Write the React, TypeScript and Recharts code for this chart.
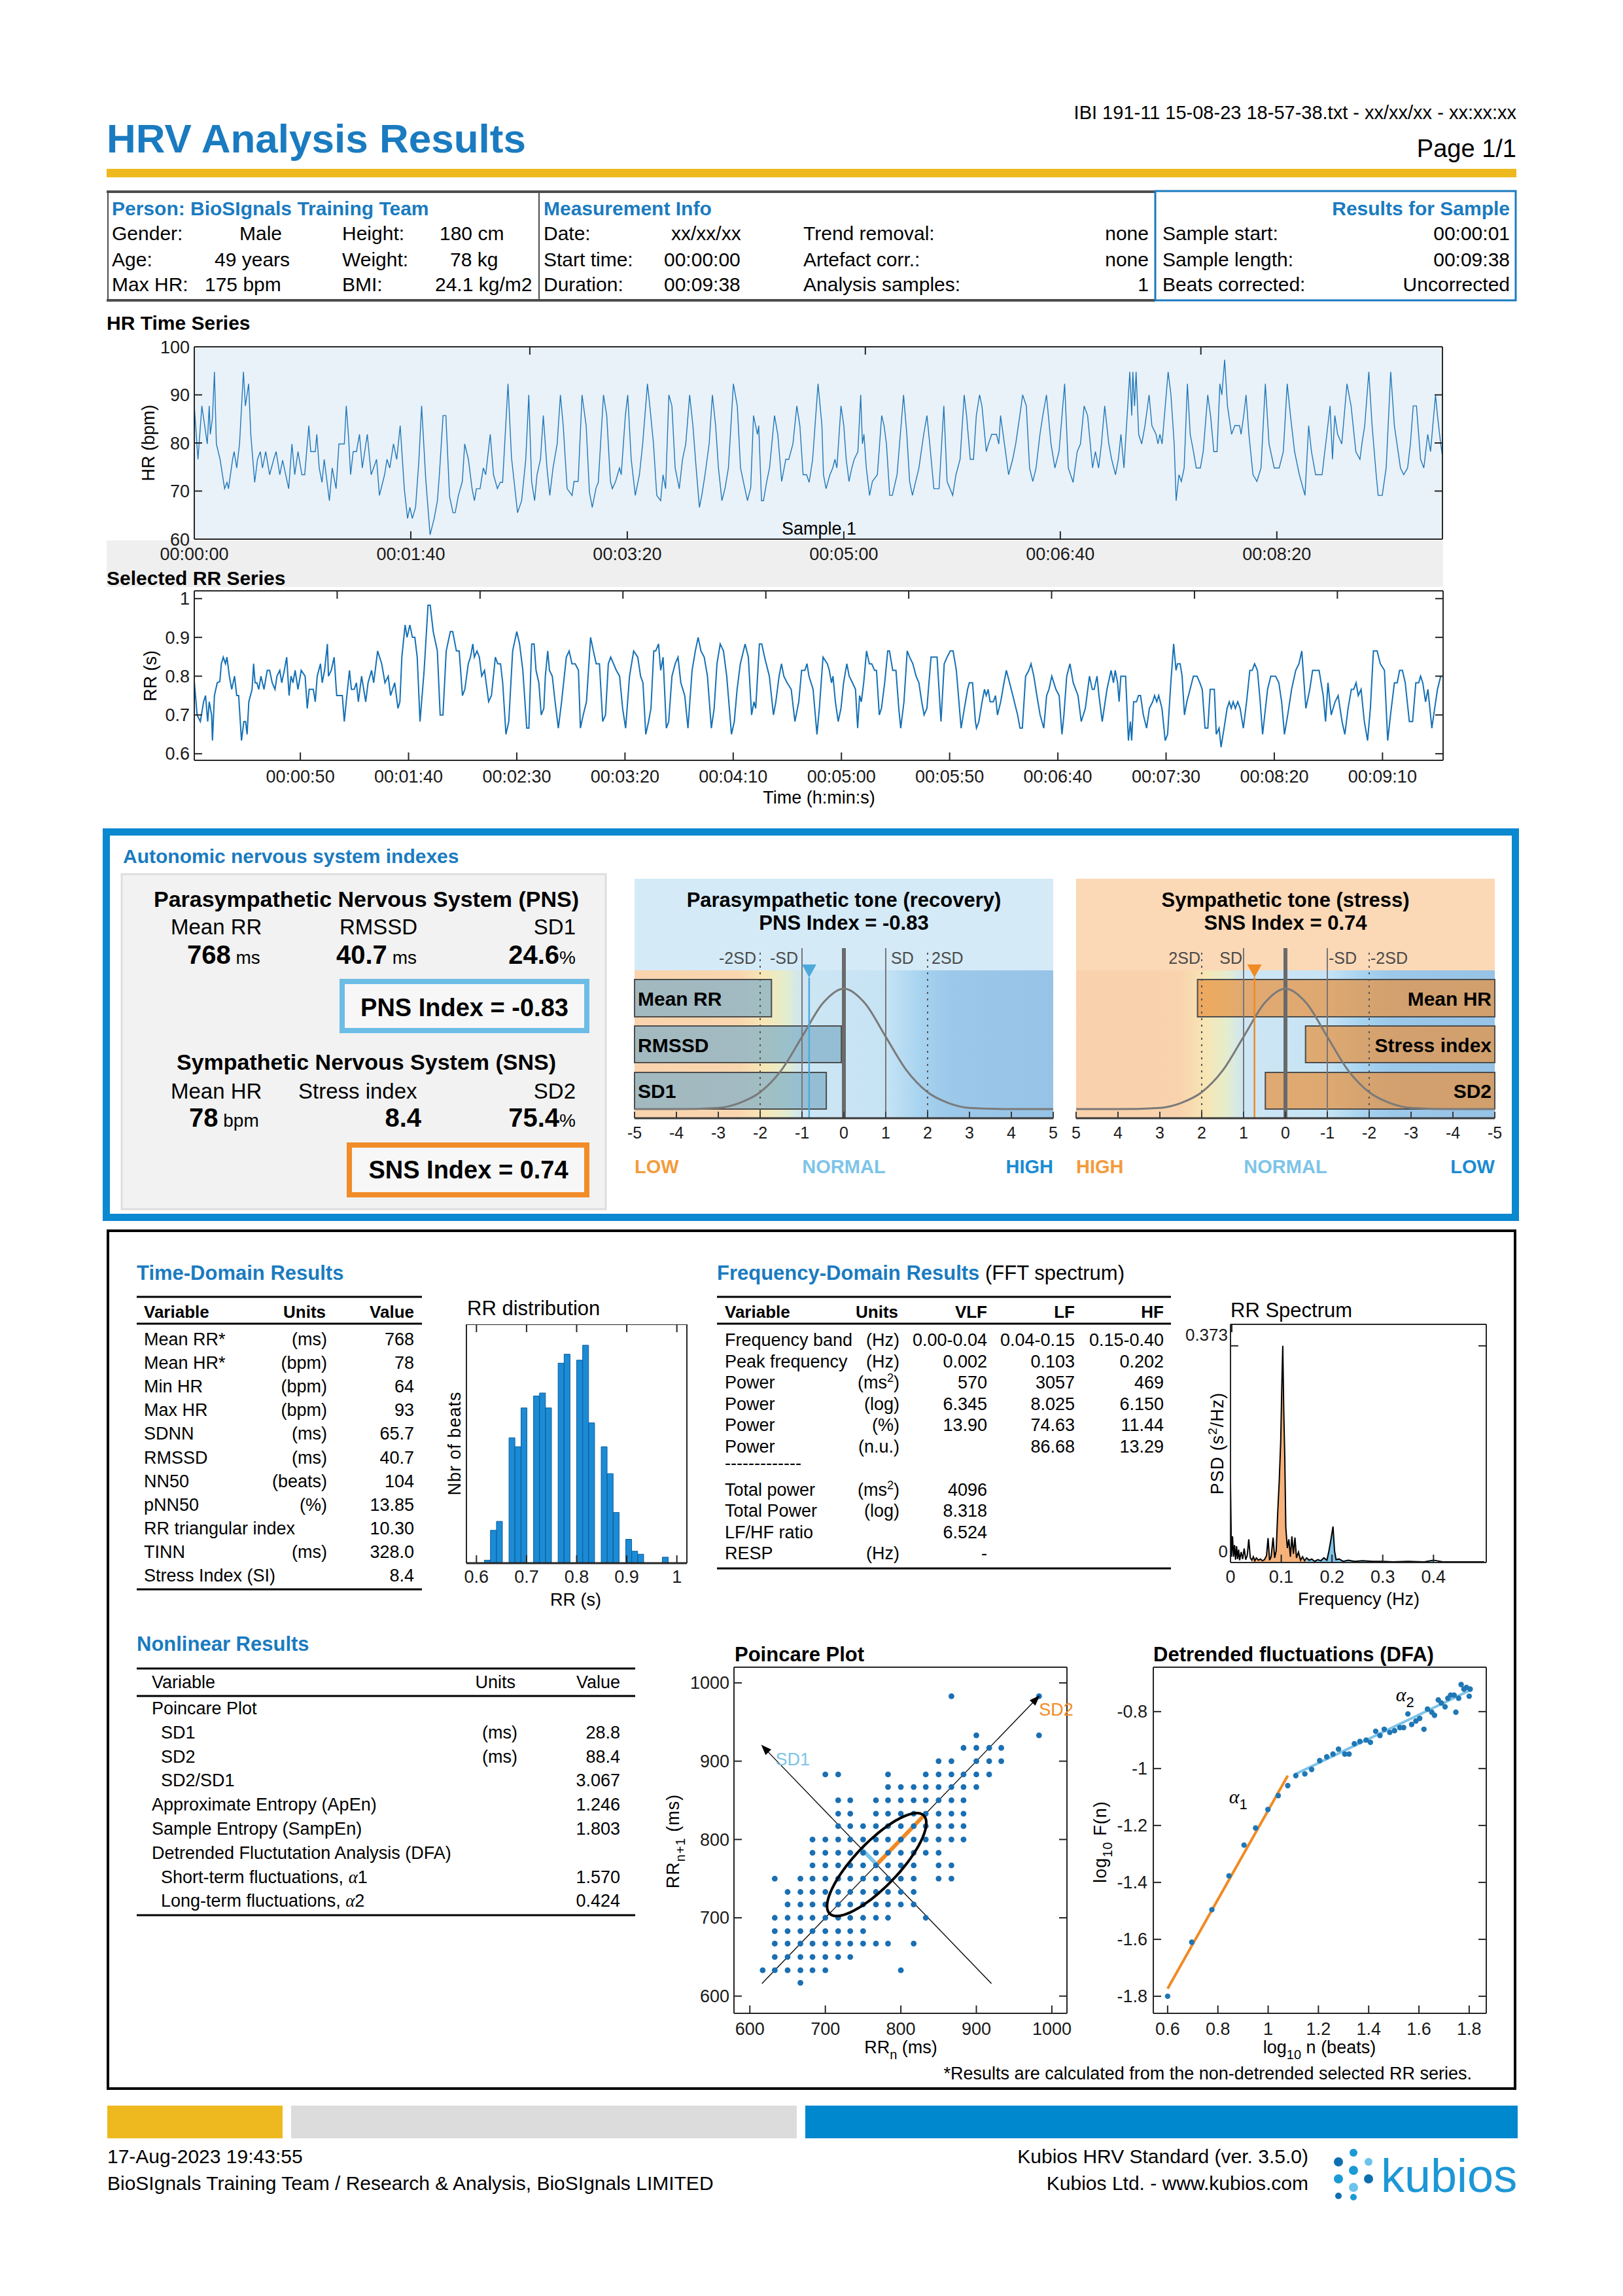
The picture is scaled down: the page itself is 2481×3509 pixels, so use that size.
import React from 'react';
import {
  ComposedChart, ScatterChart, Line, Area, Bar, Scatter,
  XAxis, YAxis, ReferenceLine, ReferenceArea, ReferenceDot,
} from 'recharts';

const FONT = 'Arial, "Liberation Sans", Helvetica, sans-serif';
const PAGE_W = 2481;
const PAGE_H = 3509;
const HEAD = '#1a7bc0';
const AXC = '#262626';

/* ============================ DATA ============================ */

const hrSeries: [number, number][] = [
  [0.0,87.7],[1.7,76.6],[3.5,87.7],[6.0,79.8],[6.9,87.7],[7.4,81.8],[8.4,85.2],[9.3,94.8],[10.2,79.8],[11.9,76.6],[14.0,70.5],[15.1,71.8],[15.8,70.5],[17.7,76.6],[18.4,78.2],[19.6,74.8],[20.9,79.8],[22.7,94.8],[23.6,87.7],[25.1,92.3],[26.1,81.8],[27.9,71.8],[29.2,76.6],[30.5,78.2],[31.5,74.8],[33.0,78.2],[34.8,73.4],[36.7,76.6],[37.8,78.2],[39.5,73.4],[40.8,76.4],[43.6,70.5],[45.1,79.8],[46.4,73.4],[47.9,78.2],[49.7,73.4],[51.0,73.4],[52.9,83.6],[53.8,78.2],[55.9,78.2],[56.6,81.8],[57.7,74.8],[59.0,71.8],[60.0,76.6],[62.4,68.0],[63.7,74.8],[65.5,70.5],[66.8,79.8],[69.3,79.8],[70.2,87.7],[71.3,80.9],[72.2,73.4],[73.4,78.2],[74.9,78.2],[76.3,81.8],[77.6,74.8],[79.9,81.8],[81.7,73.4],[84.2,76.6],[85.5,69.1],[87.9,73.4],[89.0,76.6],[90.3,74.8],[92.0,79.8],[93.5,76.6],[95.1,83.6],[97.0,70.5],[98.5,64.3],[99.6,66.6],[100.7,64.3],[102.2,66.6],[103.7,76.1],[105.0,87.7],[106.9,72.5],[108.9,60.9],[110.8,64.3],[112.3,68.0],[113.2,73.4],[114.9,85.7],[116.2,85.7],[117.9,68.9],[119.5,65.5],[120.5,65.5],[122.0,69.1],[123.8,72.0],[124.9,79.8],[126.6,76.6],[128.3,70.5],[129.4,68.0],[130.3,70.5],[132.0,70.5],[133.5,74.8],[134.6,73.4],[136.7,81.8],[138.2,73.4],[140.0,70.5],[141.3,71.8],[142.4,71.8],[144.9,92.3],[146.5,77.0],[149.3,65.5],[151.2,68.0],[153.1,76.6],[154.5,90.0],[155.8,72.0],[157.2,68.0],[158.3,73.4],[159.9,76.6],[161.2,85.7],[162.9,74.8],[164.2,69.1],[165.7,74.8],[167.6,79.8],[169.1,90.0],[170.4,83.6],[172.2,70.5],[174.5,69.1],[175.4,72.0],[177.3,72.0],[179.1,90.0],[181.0,83.6],[182.5,69.8],[183.8,66.6],[185.6,70.7],[186.6,71.8],[189.0,90.0],[190.5,85.7],[192.2,72.0],[193.1,70.5],[194.6,72.0],[196.4,74.8],[197.2,73.4],[199.1,85.7],[200.2,90.0],[201.8,76.6],[203.7,69.1],[205.6,73.4],[207.1,79.8],[209.3,92.3],[210.4,87.7],[212.1,79.8],[213.6,69.1],[215.4,68.0],[216.5,73.4],[217.7,70.5],[219.2,90.0],[220.6,87.7],[222.1,74.8],[224.0,70.5],[225.5,76.6],[227.0,79.8],[228.8,90.0],[230.3,83.6],[231.8,74.8],[233.3,66.6],[234.4,69.1],[235.9,73.4],[237.8,79.8],[239.3,90.0],[240.8,83.6],[242.1,74.8],[243.7,68.0],[245.2,70.7],[246.7,74.8],[249.0,92.3],[250.8,87.7],[252.3,74.8],[253.6,72.0],[255.5,68.0],[257.0,70.7],[258.3,85.7],[260.1,81.8],[260.7,83.6],[262.0,68.0],[262.9,68.0],[264.4,72.0],[265.7,74.8],[268.0,85.7],[269.5,81.8],[271.3,72.0],[273.2,76.6],[274.6,76.6],[276.5,79.8],[278.3,87.7],[279.7,83.6],[281.2,73.4],[282.8,73.4],[284.0,71.8],[285.6,76.6],[288.1,92.3],[289.9,83.6],[290.6,73.4],[291.8,70.5],[293.6,73.4],[294.9,74.8],[295.9,76.6],[296.8,74.8],[298.7,87.7],[300.0,83.6],[301.1,76.6],[302.4,72.0],[303.7,74.8],[304.8,76.6],[306.5,78.2],[307.8,90.0],[308.6,79.8],[309.3,81.8],[310.4,74.8],[311.9,69.1],[313.2,72.0],[315.5,73.4],[317.5,85.7],[318.6,83.6],[319.7,79.8],[321.2,69.1],[322.4,69.1],[324.6,73.4],[327.6,90.0],[329.1,81.8],[330.4,72.0],[331.7,69.1],[333.2,72.0],[334.7,74.8],[336.9,81.8],[338.4,85.7],[339.7,79.8],[341.6,70.5],[344.0,70.5],[346.2,87.7],[347.7,72.0],[350.3,69.1],[351.8,73.4],[353.7,76.6],[355.6,90.0],[356.7,85.7],[358.4,76.6],[359.9,76.6],[361.2,85.7],[362.7,90.0],[363.8,87.7],[365.8,78.2],[366.8,79.8],[368.3,81.8],[370.5,81.8],[371.6,79.8],[372.4,85.7],[374.2,79.8],[376.1,73.4],[378.0,76.6],[379.4,79.8],[381.3,85.7],[382.6,90.0],[384.3,87.7],[385.8,74.8],[387.3,72.0],[388.8,74.8],[390.6,81.8],[391.9,85.7],[393.6,90.0],[395.7,79.8],[397.5,74.8],[399.4,78.2],[402.0,92.3],[403.7,74.8],[405.9,71.8],[407.8,78.2],[409.3,79.8],[411.0,87.7],[412.6,85.7],[414.9,74.8],[416.2,78.2],[417.7,74.8],[419.0,79.8],[420.5,87.7],[422.4,79.8],[423.7,76.6],[425.5,73.4],[426.8,76.6],[428.0,81.8],[429.4,74.8],[432.1,94.8],[433.0,85.7],[433.5,94.8],[434.3,87.7],[435.0,94.8],[436.2,81.8],[437.6,79.8],[439.1,83.6],[441.0,90.0],[442.3,83.6],[444.2,81.8],[445.1,79.8],[446.0,81.8],[447.0,79.8],[449.8,94.8],[451.1,90.0],[452.6,79.8],[453.5,68.0],[454.8,73.4],[455.9,72.0],[457.2,74.8],[458.7,92.3],[460.0,81.8],[461.5,78.2],[462.8,74.8],[464.7,74.8],[466.0,78.2],[468.1,90.0],[469.4,85.7],[470.9,78.2],[472.4,78.2],[473.7,92.3],[474.6,90.0],[475.9,97.3],[477.2,87.7],[479.1,81.8],[480.6,83.6],[482.8,83.6],[483.5,81.8],[484.7,85.7],[485.8,90.0],[487.1,81.8],[489.0,73.4],[490.8,72.0],[492.7,74.8],[494.7,92.3],[496.4,79.8],[498.8,74.8],[501.1,74.8],[503.0,78.2],[504.8,92.3],[506.3,85.7],[508.2,78.2],[510.4,73.4],[513.0,69.1],[514.7,83.6],[516.0,78.2],[517.9,73.4],[520.9,73.4],[523.1,81.8],[524.6,87.7],[525.7,76.6],[526.8,85.7],[528.1,81.8],[530.0,79.8],[532.4,92.3],[534.3,87.7],[536.5,78.2],[538.4,76.6],[539.3,79.8],[540.6,83.6],[542.5,94.8],[544.0,83.6],[545.9,73.4],[546.8,69.1],[548.7,69.1],[550.5,74.8],[552.6,94.8],[554.3,83.6],[557.1,74.8],[558.6,73.4],[560.4,74.8],[561.7,79.8],[563.0,87.7],[564.5,87.7],[566.4,76.6],[567.9,74.8],[569.7,81.8],[571.0,78.2],[573.3,90.0],[574.2,85.7],[575.7,79.8],[577.2,74.8],
];

const rrSeries: [number, number][] = [
  [1.0,0.786],[2.3,0.700],[3.8,0.683],[5.3,0.734],[6.2,0.750],[7.2,0.683],[7.9,0.734],[9.0,0.700],[9.4,0.634],[10.3,0.750],[11.6,0.783],[12.8,0.786],[13.5,0.832],[14.4,0.849],[15.4,0.832],[16.1,0.849],[17.2,0.800],[18.3,0.766],[19.6,0.800],[20.6,0.750],[21.5,0.750],[22.8,0.634],[23.9,0.683],[24.7,0.683],[25.4,0.650],[26.2,0.734],[27.7,0.766],[28.4,0.832],[29.1,0.783],[29.9,0.783],[30.8,0.766],[31.8,0.800],[33.2,0.766],[34.7,0.815],[35.8,0.815],[37.0,0.783],[38.3,0.766],[39.2,0.800],[40.5,0.815],[41.4,0.783],[42.6,0.815],[43.7,0.849],[44.8,0.750],[45.7,0.800],[46.6,0.783],[47.6,0.815],[48.9,0.766],[50.4,0.815],[52.2,0.800],[53.2,0.717],[54.1,0.766],[56.0,0.766],[56.9,0.734],[57.8,0.800],[59.3,0.832],[60.1,0.783],[61.2,0.815],[62.5,0.883],[63.0,0.800],[64.3,0.815],[65.6,0.849],[66.8,0.750],[69.4,0.750],[70.3,0.683],[71.2,0.734],[72.7,0.815],[73.6,0.766],[74.9,0.766],[75.9,0.783],[76.8,0.734],[78.3,0.800],[80.2,0.734],[81.3,0.783],[82.9,0.815],[83.9,0.783],[85.7,0.865],[87.6,0.832],[89.1,0.783],[90.6,0.800],[91.7,0.750],[93.6,0.783],[95.1,0.717],[96.0,0.734],[96.9,0.849],[98.4,0.932],[99.3,0.900],[100.6,0.932],[101.8,0.900],[102.9,0.900],[104.0,0.849],[105.3,0.683],[107.2,0.815],[109.0,0.983],[110.0,0.983],[111.4,0.915],[113.3,0.865],[114.6,0.700],[115.9,0.700],[117.4,0.865],[119.3,0.915],[120.4,0.915],[122.1,0.865],[123.4,0.865],[124.9,0.750],[126.0,0.766],[127.6,0.832],[128.6,0.849],[129.7,0.883],[130.4,0.849],[131.6,0.865],[132.7,0.849],[133.8,0.800],[135.1,0.815],[137.0,0.734],[138.3,0.750],[140.1,0.849],[141.2,0.832],[142.5,0.832],[143.5,0.783],[145.0,0.650],[146.3,0.683],[148.1,0.865],[150.0,0.915],[151.3,0.883],[152.8,0.815],[154.6,0.666],[155.6,0.666],[156.9,0.883],[158.0,0.883],[158.9,0.815],[160.2,0.783],[161.3,0.700],[162.5,0.717],[163.2,0.800],[164.3,0.865],[165.1,0.815],[166.4,0.800],[167.7,0.734],[169.2,0.666],[170.7,0.734],[172.9,0.849],[174.2,0.865],[175.5,0.832],[177.0,0.832],[178.5,0.815],[179.4,0.666],[180.7,0.700],[182.2,0.734],[184.1,0.900],[185.4,0.865],[186.7,0.832],[188.2,0.832],[189.7,0.683],[191.0,0.700],[192.3,0.832],[193.4,0.849],[194.7,0.832],[196.0,0.815],[197.5,0.800],[198.9,0.717],[200.3,0.666],[202.1,0.800],[204.0,0.865],[205.9,0.849],[207.2,0.800],[208.3,0.783],[209.6,0.650],[210.9,0.683],[212.0,0.717],[213.3,0.865],[214.2,0.865],[215.5,0.883],[216.5,0.815],[217.6,0.849],[219.1,0.666],[220.2,0.683],[221.7,0.800],[223.2,0.832],[224.5,0.849],[225.8,0.783],[227.6,0.750],[229.1,0.666],[231.0,0.815],[232.5,0.865],[233.8,0.900],[235.1,0.865],[236.6,0.849],[238.1,0.800],[239.9,0.666],[241.2,0.717],[242.5,0.832],[244.0,0.883],[245.5,0.865],[247.0,0.800],[249.2,0.650],[250.5,0.683],[251.8,0.766],[253.3,0.832],[255.5,0.883],[257.0,0.849],[258.5,0.700],[259.6,0.734],[260.4,0.717],[262.1,0.883],[263.2,0.883],[264.5,0.849],[266.7,0.800],[268.6,0.700],[269.7,0.734],[271.2,0.800],[272.3,0.832],[273.4,0.800],[274.9,0.783],[276.8,0.766],[278.5,0.683],[280.3,0.734],[281.6,0.815],[283.1,0.815],[284.1,0.832],[285.0,0.800],[286.9,0.766],[288.7,0.650],[289.8,0.717],[291.5,0.849],[293.5,0.832],[294.4,0.815],[295.4,0.783],[296.1,0.800],[297.2,0.734],[298.5,0.683],[299.8,0.717],[301.0,0.783],[302.5,0.832],[303.6,0.800],[305.1,0.783],[306.5,0.766],[307.5,0.666],[308.4,0.750],[309.2,0.734],[310.3,0.783],[311.6,0.865],[312.9,0.832],[314.0,0.832],[315.3,0.815],[316.2,0.815],[317.5,0.700],[318.5,0.717],[320.0,0.783],[321.4,0.865],[322.2,0.865],[323.7,0.815],[325.2,0.815],[326.5,0.717],[327.4,0.666],[328.9,0.734],[330.4,0.865],[331.5,0.849],[333.0,0.832],[334.5,0.800],[335.8,0.783],[337.1,0.734],[338.2,0.700],[339.5,0.717],[341.4,0.849],[344.2,0.849],[346.0,0.683],[347.5,0.832],[348.8,0.849],[350.3,0.865],[351.6,0.865],[353.1,0.815],[355.3,0.666],[356.8,0.717],[358.3,0.766],[359.1,0.783],[360.6,0.783],[361.9,0.683],[362.4,0.666],[363.5,0.683],[365.0,0.734],[366.1,0.766],[366.9,0.750],[367.8,0.766],[368.7,0.734],[370.2,0.734],[371.2,0.750],[372.1,0.700],[373.6,0.734],[375.1,0.783],[376.2,0.815],[377.7,0.783],[379.2,0.750],[381.4,0.700],[382.5,0.666],[383.6,0.666],[385.1,0.800],[386.6,0.815],[387.6,0.832],[388.9,0.800],[390.3,0.750],[391.8,0.700],[393.5,0.666],[394.8,0.750],[395.9,0.766],[397.2,0.800],[399.1,0.766],[400.6,0.750],[401.9,0.650],[402.8,0.700],[404.1,0.800],[405.6,0.832],[407.1,0.783],[409.3,0.750],[410.8,0.683],[412.7,0.717],[414.6,0.800],[415.9,0.766],[416.8,0.766],[418.1,0.800],[419.0,0.750],[420.5,0.683],[422.7,0.766],[424.6,0.815],[425.7,0.783],[426.5,0.815],[427.6,0.783],[428.3,0.734],[429.1,0.800],[431.3,0.800],[432.1,0.700],[432.6,0.634],[433.5,0.683],[434.1,0.634],[435.0,0.734],[436.3,0.734],[437.3,0.750],[438.2,0.750],[439.5,0.700],[441.0,0.666],[442.3,0.717],[443.8,0.734],[444.7,0.750],[445.7,0.734],[446.6,0.750],[448.1,0.717],[449.6,0.634],[450.7,0.650],[452.2,0.783],[453.5,0.883],[454.6,0.815],[455.3,0.832],[456.5,0.832],[457.4,0.800],[458.5,0.700],[459.6,0.734],[461.1,0.766],[462.6,0.800],[464.3,0.800],[465.6,0.783],[466.7,0.766],[468.0,0.666],[469.3,0.666],[470.4,0.766],[472.3,0.766],[473.2,0.650],[474.5,0.666],[475.4,0.617],[476.8,0.666],[478.2,0.717],[479.2,0.734],[480.1,0.717],[481.0,0.734],[482.0,0.717],[483.1,0.734],[484.2,0.717],[485.7,0.666],[487.2,0.734],[488.7,0.815],[489.8,0.815],[490.9,0.832],[492.2,0.815],[493.5,0.734],[494.6,0.650],[496.9,0.766],[498.4,0.800],[500.6,0.800],[502.1,0.783],[503.4,0.734],[504.7,0.650],[506.2,0.700],[508.0,0.766],[509.9,0.815],[511.4,0.832],[512.7,0.865],[514.6,0.717],[516.4,0.766],[517.7,0.815],[520.7,0.815],[522.6,0.750],[523.7,0.683],[524.8,0.783],[526.3,0.700],[528.1,0.734],[529.5,0.750],[531.3,0.683],[532.6,0.650],[534.1,0.717],[535.6,0.766],[536.7,0.766],[537.8,0.783],[538.8,0.750],[540.1,0.766],[541.6,0.683],[543.1,0.634],[544.4,0.717],[545.8,0.865],[547.5,0.865],[549.0,0.832],[550.9,0.815],[552.4,0.634],[553.7,0.700],[555.5,0.783],[556.8,0.783],[557.9,0.815],[559.2,0.815],[560.5,0.783],[562.4,0.683],[563.9,0.683],[565.4,0.783],[566.7,0.783],[567.6,0.800],[568.6,0.783],[569.9,0.734],[571.0,0.766],[572.8,0.666],[574.1,0.717],[575.4,0.766],[576.9,0.800],
];

const hrTicks = [0, 100, 200, 300, 400, 500];
const rrTicks = [50, 100, 150, 200, 250, 300, 350, 400, 450, 500, 550];

// RR distribution histogram: bin centre (s) and number of beats
const histCenters = [0.622, 0.634, 0.646, 0.671, 0.683, 0.695, 0.720, 0.732, 0.744, 0.769, 0.781, 0.806, 0.818, 0.830, 0.855, 0.867, 0.879, 0.904, 0.916, 0.928, 0.977];
const histCounts = [1, 11, 14, 42, 39, 52, 56, 57, 52, 67, 70, 68, 73, 47, 39, 30, 17, 8, 4, 3, 2];
const histTicks = [0.6, 0.7, 0.8, 0.9, 1];

// FFT spectrum (Hz, s^2/Hz)
const spectrum: [number, number][] = [
  [0.000,0.139],[0.002,0.010],[0.004,0.045],[0.006,0.010],[0.008,0.030],[0.010,0.005],[0.012,0.028],[0.014,0.006],[0.016,0.022],[0.018,0.004],[0.021,0.018],[0.024,0.006],[0.027,0.024],[0.030,0.005],[0.033,0.012],[0.036,0.040],[0.039,0.008],[0.042,0.004],[0.045,0.010],[0.048,0.003],[0.051,0.008],[0.055,0.004],[0.059,0.006],[0.063,0.003],[0.067,0.005],[0.071,0.012],[0.074,0.042],[0.077,0.004],[0.080,0.010],[0.084,0.043],[0.087,0.008],[0.090,0.020],[0.093,0.085],[0.096,0.140],[0.099,0.210],[0.101,0.300],[0.103,0.373],[0.105,0.260],[0.107,0.180],[0.109,0.060],[0.112,0.025],[0.115,0.040],[0.118,0.010],[0.121,0.045],[0.124,0.015],[0.127,0.043],[0.130,0.008],[0.134,0.018],[0.138,0.004],[0.142,0.010],[0.146,0.003],[0.150,0.008],[0.155,0.004],[0.160,0.006],[0.166,0.002],[0.172,0.005],[0.178,0.003],[0.184,0.008],[0.190,0.004],[0.194,0.020],[0.198,0.040],[0.202,0.062],[0.205,0.020],[0.208,0.005],[0.214,0.006],[0.222,0.002],[0.232,0.004],[0.245,0.002],[0.260,0.003],[0.280,0.002],[0.300,0.002],[0.320,0.001],[0.350,0.002],[0.380,0.001],[0.400,0.004],[0.420,0.001],[0.450,0.001],[0.480,0.001],[0.500,0.001],
];
const LF_BAND = [0.04, 0.15];
const HF_BAND = [0.15, 0.40];

// Poincare: RR(n+1) rows and the RR(n) values that appear on each row (ms)
const poincareRows: [number, number[]][] = [
  [983, [867, 983]],
  [933, [900, 983]],
  [917, [883, 900, 917, 933]],
  [900, [850, 867, 900, 917, 933]],
  [883, [700, 717, 783, 833, 850, 867, 883, 900, 917]],
  [867, [783, 800, 817, 833, 850, 867, 883, 900]],
  [850, [717, 733, 767, 783, 800, 817, 833, 850, 867, 883]],
  [833, [717, 733, 767, 783, 800, 817, 833, 850, 867, 883]],
  [817, [717, 733, 750, 767, 783, 800, 817, 833, 850, 867, 883]],
  [800, [683, 700, 717, 733, 750, 767, 783, 800, 817, 833, 850, 867, 883]],
  [783, [683, 700, 717, 733, 750, 767, 783, 800, 817, 833, 850]],
  [767, [683, 700, 717, 733, 750, 767, 783, 800, 817, 850, 867]],
  [750, [633, 667, 683, 700, 717, 733, 750, 767, 783, 800, 817, 850, 867]],
  [733, [650, 667, 683, 700, 717, 733, 750, 767, 783, 800, 817]],
  [717, [650, 667, 683, 700, 717, 733, 750, 767, 783, 800, 817]],
  [700, [633, 650, 667, 683, 700, 717, 733, 750, 767, 783, 833]],
  [683, [633, 650, 667, 683, 700, 717, 733, 750]],
  [667, [633, 650, 667, 683, 700, 717, 733, 750, 767, 783, 817]],
  [650, [633, 650, 667, 683, 700, 717, 733]],
  [633, [617, 633, 650, 667, 683, 700, 800]],
  [617, [667]],
];
const MEAN_RR = 768;
const SD1 = 28.8;
const SD2 = 88.4;

// DFA points (log10 n, log10 F(n)) and fitted lines
const dfaPoints: [number, number][] = [
  [0.600,-1.800],[0.696,-1.610],[0.776,-1.496],[0.844,-1.377],[0.904,-1.269],[0.950,-1.209],[0.999,-1.144],[1.040,-1.095],[1.078,-1.060],[1.110,-1.025],[1.146,-1.019],[1.173,-1.003],[1.205,-0.972],[1.233,-0.959],[1.258,-0.949],[1.280,-0.932],[1.305,-0.949],[1.322,-0.949],[1.343,-0.913],[1.365,-0.905],[1.390,-0.900],[1.407,-0.908],[1.428,-0.869],[1.445,-0.884],[1.462,-0.862],[1.484,-0.873],[1.503,-0.867],[1.524,-0.856],[1.539,-0.856],[1.556,-0.808],[1.571,-0.845],[1.588,-0.833],[1.603,-0.824],[1.620,-0.862],[1.634,-0.791],[1.651,-0.802],[1.662,-0.813],[1.677,-0.759],[1.689,-0.770],[1.704,-0.783],[1.715,-0.753],[1.726,-0.742],[1.740,-0.742],[1.747,-0.802],[1.758,-0.753],[1.768,-0.705],[1.779,-0.721],[1.789,-0.715],[1.800,-0.746],[1.804,-0.721],
];
const alpha1Line: [number, number][] = [[0.6, -1.773], [1.078, -1.025]];
const alpha2Line: [number, number][] = [[1.110, -1.019], [1.806, -0.724]];

// ANS gauges
const gaussX = [-5, -4, -3, -2.5, -2, -1.5, -1, -0.5, 0, 0.5, 1, 1.5, 2, 2.5, 3, 4, 5];
const gaussY = [0, 0, 0.01, 0.05, 0.14, 0.32, 0.6, 0.88, 1, 0.88, 0.6, 0.32, 0.14, 0.05, 0.01, 0, 0];
const gaugeTicks = [-5, -4, -3, -2, -1, 0, 1, 2, 3, 4, 5];
const pnsBars = [{ label: 'Mean RR', value: -1.73 }, { label: 'RMSSD', value: -0.06 }, { label: 'SD1', value: -0.42 }];
const snsBars = [{ label: 'Mean HR', value: 2.1 }, { label: 'Stress index', value: -0.48 }, { label: 'SD2', value: 0.48 }];
const PNS_INDEX = -0.83;
const SNS_INDEX = 0.74;

// Tables
const personRows = [
  ['Gender:', 'Male', 'Height:', '180 cm'],
  ['Age:', '49 years', 'Weight:', '78 kg'],
  ['Max HR:', '175 bpm', 'BMI:', '24.1 kg/m2'],
];
const measRows = [
  ['Date:', 'xx/xx/xx', 'Trend removal:', 'none'],
  ['Start time:', '00:00:00', 'Artefact corr.:', 'none'],
  ['Duration:', '00:09:38', 'Analysis samples:', '1'],
];
const sampleRows = [
  ['Sample start:', '00:00:01'],
  ['Sample length:', '00:09:38'],
  ['Beats corrected:', 'Uncorrected'],
];
const timeDomainRows = [
  ['Mean RR*', '(ms)', '768'],
  ['Mean HR*', '(bpm)', '78'],
  ['Min HR', '(bpm)', '64'],
  ['Max HR', '(bpm)', '93'],
  ['SDNN', '(ms)', '65.7'],
  ['RMSSD', '(ms)', '40.7'],
  ['NN50', '(beats)', '104'],
  ['pNN50', '(%)', '13.85'],
  ['RR triangular index', '', '10.30'],
  ['TINN', '(ms)', '328.0'],
  ['Stress Index (SI)', '', '8.4'],
];
const freqRows = [
  ['Frequency band', '(Hz)', '0.00-0.04', '0.04-0.15', '0.15-0.40'],
  ['Peak frequency', '(Hz)', '0.002', '0.103', '0.202'],
  ['Power', '(ms2)', '570', '3057', '469'],
  ['Power', '(log)', '6.345', '8.025', '6.150'],
  ['Power', '(%)', '13.90', '74.63', '11.44'],
  ['Power', '(n.u.)', '', '86.68', '13.29'],
];
const freqTotals = [
  ['Total power', '(ms2)', '4096'],
  ['Total Power', '(log)', '8.318'],
  ['LF/HF ratio', '', '6.524'],
  ['RESP', '(Hz)', '-'],
];
const nonlinRows: [string, number, string, string][] = [
  ['Poincare Plot', 0, '', ''],
  ['SD1', 1, '(ms)', '28.8'],
  ['SD2', 1, '(ms)', '88.4'],
  ['SD2/SD1', 1, '', '3.067'],
  ['Approximate Entropy (ApEn)', 0, '', '1.246'],
  ['Sample Entropy (SampEn)', 0, '', '1.803'],
  ['Detrended Fluctutation Analysis (DFA)', 0, '', ''],
  ['Short-term fluctuations, α1', 1, '', '1.570'],
  ['Long-term fluctuations, α2', 1, '', '0.424'],
];

/* ============================ HELPERS ============================ */

const pad2 = (n: number) => String(n).padStart(2, '0');
const fmtTime = (s: number) => {
  const m = Math.floor(s / 60);
  return `00:${pad2(m)}:${pad2(Math.round(s - m * 60))}`;
};

const AXL = { stroke: AXC, strokeWidth: 2 };
const TKL = { stroke: AXC, strokeWidth: 2 };
const noTick = () => <g />;
const mkTick = (anchor: string, dx: number, dy: number, fmt: (v: number) => string = (v) => String(v), fs = 27) =>
  (p: any) => (
    <text x={p.x + dx} y={p.y + dy} textAnchor={anchor} fontSize={fs} fill="#1a1a1a" fontFamily={FONT}>
      {fmt(p.payload.value)}
    </text>
  );

function boxAxes(o: any) {
  const ts = 12;
  return [
    <XAxis key="xb" xAxisId={0} dataKey="x" type="number" domain={o.xd} allowDataOverflow ticks={o.xt} interval={0}
      height={o.b} tickSize={-ts} tickMargin={ts} axisLine={AXL} tickLine={TKL} tick={o.xTick || noTick} />,
    <YAxis key="yl" yAxisId={0} dataKey={o.yKey} type="number" domain={o.yd} allowDataOverflow ticks={o.yt} interval={0}
      width={o.l} tickSize={-ts} tickMargin={ts} axisLine={AXL} tickLine={TKL} tick={o.yTick || noTick} />,
    <YAxis key="yr" yAxisId="right" orientation="right" type="number" domain={o.yd} allowDataOverflow ticks={o.yt} interval={0}
      width={o.r} tickSize={-ts} tickMargin={ts} axisLine={AXL} tickLine={TKL} tick={noTick} />,
    <XAxis key="xt" xAxisId="top" orientation="top" type="number" domain={o.xd} allowDataOverflow ticks={o.xt} interval={0}
      height={o.t} tickSize={-ts} tickMargin={ts} axisLine={AXL} tickLine={TKL} tick={noTick} />,
  ];
}

function Frame(props: any) {
  const { px, py, pw, ph, l, r, t, b, data, scatter, children } = props;
  const w = pw + l + r;
  const h = ph + t + b;
  const m = { top: 0, right: 0, bottom: 0, left: 0 };
  return (
    <div style={{ position: 'absolute', left: px - l, top: py - t, width: w, height: h }}>
      {scatter ? (
        <ScatterChart width={w} height={h} margin={m}>{children}</ScatterChart>
      ) : (
        <ComposedChart width={w} height={h} data={data} margin={m}>{children}</ComposedChart>
      )}
    </div>
  );
}

/* ============================ CHARTS ============================ */

const hrData = hrSeries.map(([x, v]) => ({ x, v }));
const rrData = rrSeries.map(([x, v]) => ({ x, v }));
const histData = histCenters.map((x, i) => ({ x, n: histCounts[i] }));
const specData = spectrum.map(([x, psd]) => ({
  x,
  psd,
  lf: x >= LF_BAND[0] && x <= LF_BAND[1] ? psd : null,
  hf: x >= HF_BAND[0] && x <= HF_BAND[1] ? psd : null,
}));
const poincarePts = poincareRows.flatMap(([y, xs]) => xs.map((x) => ({ x, y })));
const ellipsePts = Array.from({ length: 73 }, (_, i) => {
  const t = (i / 72) * 2 * Math.PI;
  const a = (SD2 * Math.cos(t)) / Math.SQRT2;
  const b = (SD1 * Math.sin(t)) / Math.SQRT2;
  return { x: MEAN_RR + a - b, y: MEAN_RR + a + b };
});
const dfaData = dfaPoints.map(([x, y]) => ({ x, y }));
const gaussData = gaussX.map((x, i) => ({ x, y: gaussY[i] }));

const dot = (color: string, r: number) => (p: any) => <circle cx={p.cx} cy={p.cy} r={r} fill={color} />;
const emptyShape = () => <g />;
const arrowShape = (deg: number) => (p: any) => (
  <path d="M0,0 L-16,-6 L-16,6 Z" transform={`translate(${p.cx},${p.cy}) rotate(${deg})`} fill="#000" />
);
const labelShape = (content: React.ReactNode, color: string, fs = 27) => (p: any) => (
  <text x={p.cx} y={p.cy} fill={color} fontSize={fs} fontFamily={FONT}>{content}</text>
);

function HRChart() {
  return (
    <Frame px={297} py={530} pw={1908} ph={294} l={110} r={2} t={24} b={60} data={hrData}>
      {boxAxes({ xd: [0, 576.5], yd: [60, 100], xt: hrTicks, yt: [60, 70, 80, 90, 100], l: 110, r: 2, t: 24, b: 60,
        xTick: mkTick('middle', 0, 32, fmtTime), yTick: mkTick('end', -7, 9.5) })}
      <Line dataKey="v" type="linear" stroke="#1f78b8" strokeWidth={1.4} dot={false} isAnimationActive={false} />
    </Frame>
  );
}

function RRChart() {
  return (
    <Frame px={297} py={903} pw={1909} ph={259} l={110} r={2} t={24} b={60} data={rrData}>
      {boxAxes({ xd: [1, 578], yd: [0.583, 1.02], xt: rrTicks, yt: [0.6, 0.7, 0.8, 0.9, 1], l: 110, r: 2, t: 24, b: 60,
        xTick: mkTick('middle', 0, 34, fmtTime), yTick: mkTick('end', -7, 9.5) })}
      <Line dataKey="v" type="linear" stroke="#1470b5" strokeWidth={2} dot={false} isAnimationActive={false} />
    </Frame>
  );
}

// Histogram: only a bottom x axis and a hidden y axis; the box is drawn with reference lines
function HistChart() {
  const xd: [number, number] = [0.58, 1.02];
  const yMax = 80;
  const pw = 337, ph = 365, b = 50, side = 30;
  const tickLen = yMax * (12 / ph);
  return (
    <div style={{ position: 'absolute', left: 713 - side, top: 2024, width: pw + 2 * side, height: ph + b }}>
      <ComposedChart width={pw + 2 * side} height={ph + b} data={histData} margin={{ top: 0, right: side, bottom: 0, left: side }}>
        <XAxis dataKey="x" type="number" domain={xd} allowDataOverflow ticks={histTicks} interval={0}
          height={b} tickSize={-12} tickMargin={12} axisLine={{ stroke: AXC, strokeWidth: 3 }} tickLine={TKL} tick={mkTick('middle', 0, 30)} />
        <YAxis hide type="number" domain={[0, yMax]} allowDataOverflow />
        <Bar dataKey="n" barSize={9} fill="#1b8bd6" stroke="#0c5c98" strokeWidth={1} isAnimationActive={false} />
        <ReferenceLine y={yMax} stroke={AXC} strokeWidth={2} />
        <ReferenceLine x={xd[0]} stroke={AXC} strokeWidth={2} />
        <ReferenceLine x={xd[1]} stroke={AXC} strokeWidth={2} />
        {histTicks.map((v) => (
          <ReferenceLine key={v} segment={[{ x: v, y: yMax }, { x: v, y: yMax - tickLen }]} stroke={AXC} strokeWidth={2} />
        ))}
      </ComposedChart>
    </div>
  );
}

function SpectrumChart() {
  return (
    <Frame px={1881} py={2024} pw={391} ph={364} l={90} r={2} t={2} b={50} data={specData}>
      {boxAxes({ xd: [0, 0.504], yd: [0, 0.41], xt: [0, 0.1, 0.2, 0.3, 0.4], yt: [0, 0.373], l: 90, r: 2, t: 2, b: 50,
        xTick: mkTick('middle', 0, 31), yTick: mkTick('end', -4, -8, (v) => (v === 0 ? '0' : '0.373'), 26) })}
      <Area dataKey="lf" type="linear" fill="#F6B27A" fillOpacity={1} stroke="none" connectNulls={false} isAnimationActive={false} />
      <Area dataKey="hf" type="linear" fill="#7EC4E9" fillOpacity={1} stroke="none" connectNulls={false} isAnimationActive={false} />
      <Line dataKey="psd" type="linear" stroke="#000" strokeWidth={2} dot={false} isAnimationActive={false} />
    </Frame>
  );
}

function PoincareChart() {
  const d = MEAN_RR;
  return (
    <Frame px={1122} py={2548} pw={509} ph={529} l={100} r={60} t={2} b={50} scatter>
      {boxAxes({ xd: [579, 1020], yd: [578, 1020], xt: [600, 700, 800, 900, 1000], yt: [600, 700, 800, 900, 1000],
        l: 100, r: 60, t: 2, b: 50, yKey: 'y',
        xTick: mkTick('middle', 0, 33), yTick: mkTick('end', -7, 9.5) })}
      <Scatter data={poincarePts} shape={dot('#1a6fb3', 4.4)} isAnimationActive={false} />
      <ReferenceLine segment={[{ x: 616, y: 616 }, { x: 982, y: 982 }]} stroke="#000" strokeWidth={1.3} />
      <ReferenceLine segment={[{ x: 920, y: 616 }, { x: 617, y: 919 }]} stroke="#000" strokeWidth={1.3} />
      <ReferenceDot x={984} y={984} r={1} shape={arrowShape(-46)} />
      <ReferenceDot x={615} y={921} r={1} shape={arrowShape(-134)} />
      <Scatter data={ellipsePts} shape={emptyShape} line={{ stroke: '#000', strokeWidth: 4 }} lineType="joint" isAnimationActive={false} />
      <ReferenceLine segment={[{ x: d, y: d }, { x: d + SD2 / Math.SQRT2, y: d + SD2 / Math.SQRT2 }]} stroke="#F08A24" strokeWidth={6} />
      <ReferenceLine segment={[{ x: d, y: d }, { x: d - SD1 / Math.SQRT2, y: d + SD1 / Math.SQRT2 }]} stroke="#7EC3E8" strokeWidth={6} />
      <ReferenceDot x={634} y={895} r={1} shape={labelShape('SD1', '#7EC3E8')} />
      <ReferenceDot x={983} y={958} r={1} shape={labelShape('SD2', '#F08A24')} />
    </Frame>
  );
}

function DFAChart() {
  const sub = (n: string) => (
    <>
      <tspan fontStyle="italic" fontFamily='"Liberation Serif", serif' fontSize={30}>α</tspan>
      <tspan dy={9} fontSize={22}>{n}</tspan>
    </>
  );
  return (
    <Frame px={1763} py={2548} pw={509} ph={529} l={100} r={2} t={2} b={50} scatter>
      {boxAxes({ xd: [0.543, 1.868], yd: [-1.86, -0.644], xt: [0.6, 0.8, 1, 1.2, 1.4, 1.6, 1.8], yt: [-1.8, -1.6, -1.4, -1.2, -1, -0.8],
        l: 100, r: 2, t: 2, b: 50, yKey: 'y',
        xTick: mkTick('middle', 0, 33), yTick: mkTick('end', -9, 9.5) })}
      <Scatter data={dfaData} shape={dot('#1f77b4', 4.2)} isAnimationActive={false} />
      <ReferenceLine segment={alpha1Line.map(([x, y]) => ({ x, y }))} stroke="#F08A24" strokeWidth={4} />
      <ReferenceLine segment={alpha2Line.map(([x, y]) => ({ x, y }))} stroke="#7EC3E8" strokeWidth={4} />
      <ReferenceDot x={0.844} y={-1.122} r={1} shape={labelShape(sub('1'), '#000')} />
      <ReferenceDot x={1.508} y={-0.764} r={1} shape={labelShape(sub('2'), '#000')} />
    </Frame>
  );
}

// ANS gauges
const GY: [number, number] = [-0.076, 1.337];
const rowBands = [[0.766, 1.076], [0.386, 0.69], [0.0, 0.304]];
const TRI_C = 1.147;
const TRI_B = 1.092;
const triShape = (color: string) => (p: any) => (
  <path d={`M${p.cx - 11},${p.cy - 10} L${p.cx + 11},${p.cy - 10} L${p.cx},${p.cy + 10} Z`} fill={color} />
);

function Gauge(props: any) {
  const { px, reversed, bars, marker, markColor, barFill } = props;
  const py = 1449, pw = 640, ph = 260, b = 60, side = 24;
  return (
    <div style={{ position: 'absolute', left: px - side, top: py, width: pw + 2 * side, height: ph + b }}>
      <ComposedChart width={pw + 2 * side} height={ph + b} data={gaussData} margin={{ top: 0, right: side, bottom: 0, left: side }}>
        <XAxis dataKey="x" type="number" domain={[-5, 5]} allowDataOverflow reversed={reversed} ticks={gaugeTicks} interval={0}
          height={b} tickSize={-10} tickMargin={10} axisLine={{ stroke: '#3a3a3a', strokeWidth: 3 }}
          tickLine={{ stroke: '#3a3a3a', strokeWidth: 2 }} tick={mkTick('middle', 0, 31, (v) => String(v), 25)} />
        <YAxis hide type="number" domain={GY} allowDataOverflow />
        {bars.map((bar: any, i: number) => (
          <ReferenceArea key={i} x1={-5} x2={bar.value} y1={rowBands[i][0]} y2={rowBands[i][1]}
            fill={barFill} fillOpacity={0.72} stroke="#4d4d4d" strokeWidth={2} />
        ))}
        <ReferenceLine x={-2} stroke="#555" strokeWidth={2} strokeDasharray="3 7" />
        <ReferenceLine x={2} stroke="#555" strokeWidth={2} strokeDasharray="3 7" />
        <ReferenceLine x={-1} stroke="#777" strokeWidth={2} />
        <ReferenceLine x={1} stroke="#777" strokeWidth={2} />
        <ReferenceLine x={0} stroke="#6a6a6a" strokeWidth={6} />
        <Line dataKey="y" type="monotone" stroke="#7a7a7a" strokeWidth={3} dot={false} isAnimationActive={false} />
        <ReferenceLine segment={[{ x: marker, y: TRI_B }, { x: marker, y: GY[0] }]} stroke={markColor} strokeWidth={2.5} />
        <ReferenceDot x={marker} y={TRI_C} r={1} shape={triShape(markColor)} />
      </ComposedChart>
    </div>
  );
}

/* ============================ STATIC LAYERS ============================ */

function Background() {
  return (
    <svg width={PAGE_W} height={PAGE_H} style={{ position: 'absolute', left: 0, top: 0 }}>
      <defs>
        <linearGradient id="gPNS" x1="0" y1="0" x2="1" y2="0">
          <stop offset="0" stopColor="#F9D3AD" />
          <stop offset="0.25" stopColor="#F9D6AF" />
          <stop offset="0.31" stopColor="#F7E7B6" />
          <stop offset="0.36" stopColor="#E4EDCC" />
          <stop offset="0.40" stopColor="#CDE6F4" />
          <stop offset="0.60" stopColor="#C6E3F4" />
          <stop offset="0.68" stopColor="#A8D4F0" />
          <stop offset="0.75" stopColor="#9CC8EA" />
          <stop offset="1" stopColor="#96C3E6" />
        </linearGradient>
        <linearGradient id="gSNS" x1="0" y1="0" x2="1" y2="0">
          <stop offset="0" stopColor="#F9D1AC" />
          <stop offset="0.25" stopColor="#F9D3AD" />
          <stop offset="0.31" stopColor="#F7E6B5" />
          <stop offset="0.36" stopColor="#E4EDCC" />
          <stop offset="0.40" stopColor="#CDE6F4" />
          <stop offset="0.60" stopColor="#C6E3F4" />
          <stop offset="0.68" stopColor="#A8D4F0" />
          <stop offset="0.75" stopColor="#9CC8EA" />
          <stop offset="1" stopColor="#96C3E6" />
        </linearGradient>
      </defs>
      <rect x={163} y={258} width={2155} height={13} fill="#EDB91F" />
      <rect x={297} y={530} width={1908} height={294} fill="#E9F1F9" />
      <rect x={163} y={826} width={2043} height={71} fill="#EFEFEF" />
      <rect x={186} y={1336} width={740} height={512} fill="#F2F2F2" stroke="#DDDDDD" strokeWidth={3} />
      <rect x={970} y={1343} width={640} height={140} fill="#D4EAF7" />
      <rect x={970} y={1483} width={640} height={226} fill="url(#gPNS)" />
      <rect x={1645} y={1343} width={640} height={140} fill="#FBD8B6" />
      <rect x={1645} y={1483} width={640} height={226} fill="url(#gSNS)" />
      <rect x={164} y={3218} width={268} height={50} fill="#EDB91F" />
      <rect x={445} y={3218} width={773} height={50} fill="#DCDCDC" />
      <rect x={1231} y={3218} width={1089} height={50} fill="#0088CF" />
    </svg>
  );
}

const sup2 = (u: string) =>
  u === '(ms2)' ? (
    <>
      (ms<tspan dy={-10} fontSize={18}>2</tspan>
      <tspan dy={10}>)</tspan>
    </>
  ) : (
    u
  );

const alphaText = (s: string) => {
  const parts = s.split('α');
  if (parts.length < 2) return s;
  return (
    <>
      {parts[0]}
      <tspan fontStyle="italic" fontFamily='"Liberation Serif", serif'>α</tspan>
      {parts[1]}
    </>
  );
};

function Overlay() {
  const gx = (v: number) => 1290 + v * 64; // PNS gauge pixel
  const sx = (v: number) => 1965 - v * 64; // SNS gauge pixel
  const infoY = [367, 407, 445];
  const personValX = [366, 328, 313];
  const personVal2X = [672, 688, 665];
  const measValX = [1026, 1015, 1015];
  const gaugeRowY = [1537, 1608, 1678];
  return (
    <svg width={PAGE_W} height={PAGE_H} style={{ position: 'absolute', left: 0, top: 0, pointerEvents: 'none' }} fontFamily={FONT}>
      {/* Header */}
      <text x={163} y={233} fontSize={62} fontWeight="bold" fill={HEAD}>HRV Analysis Results</text>
      <text x={2318} y={182} fontSize={29} textAnchor="end">IBI 191-11 15-08-23 18-57-38.txt - xx/xx/xx - xx:xx:xx</text>
      <text x={2318} y={240} fontSize={38} textAnchor="end">Page 1/1</text>

      {/* Info table */}
      <line x1={163} y1={293} x2={1766} y2={293} stroke="#4d4d4d" strokeWidth={4} />
      <line x1={163} y1={459} x2={1766} y2={459} stroke="#4d4d4d" strokeWidth={4} />
      <line x1={165} y1={291} x2={165} y2={461} stroke="#4d4d4d" strokeWidth={2} />
      <line x1={824} y1={293} x2={824} y2={459} stroke="#4d4d4d" strokeWidth={2} />
      <rect x={1766} y={292} width={551} height={167} fill="none" stroke={HEAD} strokeWidth={3} />
      <text x={171} y={329} fontSize={30} fontWeight="bold" fill={HEAD}>Person: BioSIgnals Training Team</text>
      <text x={831} y={329} fontSize={30} fontWeight="bold" fill={HEAD}>Measurement Info</text>
      <text x={2308} y={329} fontSize={30} fontWeight="bold" fill={HEAD} textAnchor="end">Results for Sample</text>
      {personRows.map((r, i) => (
        <g key={'p' + i} fontSize={30}>
          <text x={171} y={infoY[i]}>{r[0]}</text>
          <text x={personValX[i]} y={infoY[i]}>{r[1]}</text>
          <text x={523} y={infoY[i]}>{r[2]}</text>
          <text x={personVal2X[i]} y={infoY[i]}>{r[3]}</text>
        </g>
      ))}
      {measRows.map((r, i) => (
        <g key={'m' + i} fontSize={30}>
          <text x={831} y={infoY[i]}>{r[0]}</text>
          <text x={measValX[i]} y={infoY[i]}>{r[1]}</text>
          <text x={1228} y={infoY[i]}>{r[2]}</text>
          <text x={1756} y={infoY[i]} textAnchor="end">{r[3]}</text>
        </g>
      ))}
      {sampleRows.map((r, i) => (
        <g key={'s' + i} fontSize={30}>
          <text x={1777} y={infoY[i]}>{r[0]}</text>
          <text x={2308} y={infoY[i]} textAnchor="end">{r[1]}</text>
        </g>
      ))}

      {/* HR / RR labels */}
      <text x={163} y={504} fontSize={30} fontWeight="bold">HR Time Series</text>
      <text x={163} y={894} fontSize={30} fontWeight="bold">Selected RR Series</text>
      <text x={1252} y={817} fontSize={27} textAnchor="middle">Sample 1</text>
      <text transform="translate(236,677) rotate(-90)" fontSize={27} textAnchor="middle">HR (bpm)</text>
      <text transform="translate(239,1033) rotate(-90)" fontSize={27} textAnchor="middle">RR (s)</text>
      <text x={1252} y={1228} fontSize={27} textAnchor="middle">Time (h:min:s)</text>

      {/* ANS frame */}
      <rect x={162.5} y={1271.5} width={2154} height={589} fill="none" stroke="#0A88D0" strokeWidth={11} />
      <text x={188} y={1319} fontSize={30} fontWeight="bold" fill={HEAD}>Autonomic nervous system indexes</text>
      <text x={560} y={1386} fontSize={34} fontWeight="bold" textAnchor="middle">Parasympathetic Nervous System (PNS)</text>
      <g fontSize={33}>
        <text x={261} y={1428}>Mean RR</text>
        <text x={519} y={1428}>RMSSD</text>
        <text x={880} y={1428} textAnchor="end">SD1</text>
      </g>
      <text x={286} y={1473}><tspan fontSize={40} fontWeight="bold">768</tspan><tspan fontSize={28}> ms</tspan></text>
      <text x={514} y={1473}><tspan fontSize={40} fontWeight="bold">40.7</tspan><tspan fontSize={28}> ms</tspan></text>
      <text x={880} y={1473} textAnchor="end"><tspan fontSize={40} fontWeight="bold">24.6</tspan><tspan fontSize={28}>%</tspan></text>
      <rect x={523} y={1500} width={374} height={75} fill="#F7F7F7" stroke="#6CBDE5" strokeWidth={8} />
      <text x={710} y={1553} fontSize={38} fontWeight="bold" textAnchor="middle">PNS Index = -0.83</text>
      <text x={560} y={1635} fontSize={34} fontWeight="bold" textAnchor="middle">Sympathetic Nervous System (SNS)</text>
      <g fontSize={33}>
        <text x={261} y={1679}>Mean HR</text>
        <text x={456} y={1679}>Stress index</text>
        <text x={880} y={1679} textAnchor="end">SD2</text>
      </g>
      <text x={289} y={1722}><tspan fontSize={40} fontWeight="bold">78</tspan><tspan fontSize={28}> bpm</tspan></text>
      <text x={644} y={1722} textAnchor="end" fontSize={40} fontWeight="bold">8.4</text>
      <text x={880} y={1722} textAnchor="end"><tspan fontSize={40} fontWeight="bold">75.4</tspan><tspan fontSize={28}>%</tspan></text>
      <rect x={534} y={1750} width={363} height={76} fill="#F7F7F7" stroke="#F28C28" strokeWidth={8} />
      <text x={716} y={1801} fontSize={38} fontWeight="bold" textAnchor="middle">SNS Index = 0.74</text>

      {/* PNS gauge texts */}
      <text x={1290} y={1386} fontSize={31} fontWeight="bold" textAnchor="middle">Parasympathetic tone (recovery)</text>
      <text x={1290} y={1421} fontSize={31} fontWeight="bold" textAnchor="middle">PNS Index = -0.83</text>
      <g fontSize={25} fill="#4a4a4a">
        <text x={gx(-2) - 6} y={1473} textAnchor="end">-2SD</text>
        <text x={gx(-1) - 6} y={1473} textAnchor="end">-SD</text>
        <text x={gx(1) + 8} y={1473}>SD</text>
        <text x={gx(2) + 6} y={1473}>2SD</text>
      </g>
      {pnsBars.map((b, i) => (
        <text key={'pb' + i} x={975} y={gaugeRowY[i]} fontSize={30} fontWeight="bold">{b.label}</text>
      ))}
      <text x={970} y={1793} fontSize={29} fontWeight="bold" fill="#F39B3B">LOW</text>
      <text x={1290} y={1793} fontSize={29} fontWeight="bold" fill="#7DC4E8" textAnchor="middle">NORMAL</text>
      <text x={1610} y={1793} fontSize={29} fontWeight="bold" fill="#1B8BD3" textAnchor="end">HIGH</text>

      {/* SNS gauge texts */}
      <text x={1965} y={1386} fontSize={31} fontWeight="bold" textAnchor="middle">Sympathetic tone (stress)</text>
      <text x={1965} y={1421} fontSize={31} fontWeight="bold" textAnchor="middle">SNS Index = 0.74</text>
      <g fontSize={25} fill="#4a4a4a">
        <text x={sx(2) - 2} y={1473} textAnchor="end">2SD</text>
        <text x={sx(1) - 2} y={1473} textAnchor="end">SD</text>
        <text x={sx(-1) + 2} y={1473}>-SD</text>
        <text x={sx(-2) + 2} y={1473}>-2SD</text>
      </g>
      {snsBars.map((b, i) => (
        <text key={'sb' + i} x={2280} y={gaugeRowY[i]} fontSize={30} fontWeight="bold" textAnchor="end">{b.label}</text>
      ))}
      <text x={1645} y={1793} fontSize={29} fontWeight="bold" fill="#F39B3B">HIGH</text>
      <text x={1965} y={1793} fontSize={29} fontWeight="bold" fill="#7DC4E8" textAnchor="middle">NORMAL</text>
      <text x={2285} y={1793} fontSize={29} fontWeight="bold" fill="#1B8BD3" textAnchor="end">LOW</text>

      {/* Main results frame */}
      <rect x={165} y={1881} width={2151} height={1311} fill="none" stroke="#000" strokeWidth={4} />

      {/* Time domain */}
      <text x={209} y={1956} fontSize={31} fontWeight="bold" fill={HEAD}>Time-Domain Results</text>
      <line x1={209} y1={1982} x2={645} y2={1982} stroke="#000" strokeWidth={3} />
      <line x1={209} y1={2023} x2={645} y2={2023} stroke="#000" strokeWidth={3} />
      <line x1={209} y1={2429} x2={645} y2={2429} stroke="#000" strokeWidth={3} />
      <g fontSize={26} fontWeight="bold">
        <text x={220} y={2014}>Variable</text>
        <text x={498} y={2014} textAnchor="end">Units</text>
        <text x={633} y={2014} textAnchor="end">Value</text>
      </g>
      {timeDomainRows.map((r, i) => {
        const y = 2056 + i * 36.1;
        return (
          <g key={'td' + i} fontSize={27}>
            <text x={220} y={y}>{r[0]}</text>
            <text x={500} y={y} textAnchor="end">{r[1]}</text>
            <text x={633} y={y} textAnchor="end">{r[2]}</text>
          </g>
        );
      })}
      <text x={714} y={2010} fontSize={31}>RR distribution</text>
      <text transform="translate(704,2206) rotate(-90)" fontSize={27} textAnchor="middle" letterSpacing={1}>Nbr of beats</text>
      <text x={880} y={2454} fontSize={27} textAnchor="middle">RR (s)</text>

      {/* Frequency domain */}
      <text x={1096} y={1956} fontSize={31}>
        <tspan fontWeight="bold" fill={HEAD}>Frequency-Domain Results</tspan>
        <tspan> (FFT spectrum)</tspan>
      </text>
      <line x1={1096} y1={1982} x2={1790} y2={1982} stroke="#000" strokeWidth={3} />
      <line x1={1096} y1={2023} x2={1790} y2={2023} stroke="#000" strokeWidth={3} />
      <line x1={1096} y1={2397} x2={1790} y2={2397} stroke="#000" strokeWidth={3} />
      <g fontSize={26} fontWeight="bold">
        <text x={1108} y={2014}>Variable</text>
        <text x={1373} y={2014} textAnchor="end">Units</text>
        <text x={1509} y={2014} textAnchor="end">VLF</text>
        <text x={1643} y={2014} textAnchor="end">LF</text>
        <text x={1779} y={2014} textAnchor="end">HF</text>
      </g>
      {freqRows.map((r, i) => {
        const y = 2057 + i * 32.5;
        return (
          <g key={'fr' + i} fontSize={27}>
            <text x={1108} y={y}>{r[0]}</text>
            <text x={1375} y={y} textAnchor="end">{sup2(r[1])}</text>
            <text x={1509} y={y} textAnchor="end">{r[2]}</text>
            <text x={1643} y={y} textAnchor="end">{r[3]}</text>
            <text x={1779} y={y} textAnchor="end">{r[4]}</text>
          </g>
        );
      })}
      <text x={1108} y={2245} fontSize={27}>-------------</text>
      {freqTotals.map((r, i) => {
        const y = 2286 + i * 32.4;
        return (
          <g key={'ft' + i} fontSize={27}>
            <text x={1108} y={y}>{r[0]}</text>
            <text x={1375} y={y} textAnchor="end">{sup2(r[1])}</text>
            <text x={1509} y={y} textAnchor="end">{r[2]}</text>
          </g>
        );
      })}
      <text x={1881} y={2013} fontSize={31}>RR Spectrum</text>
      <text transform="translate(1870,2206) rotate(-90)" fontSize={27} textAnchor="middle" letterSpacing={1}>
        PSD (s<tspan dy={-10} fontSize={19}>2</tspan><tspan dy={10}>/Hz)</tspan>
      </text>
      <text x={2077} y={2453} fontSize={27} textAnchor="middle">Frequency (Hz)</text>

      {/* Nonlinear */}
      <text x={209} y={2523} fontSize={31} fontWeight="bold" fill={HEAD}>Nonlinear Results</text>
      <line x1={209} y1={2550} x2={971} y2={2550} stroke="#000" strokeWidth={3} />
      <line x1={209} y1={2592} x2={971} y2={2592} stroke="#000" strokeWidth={3} />
      <line x1={209} y1={2927} x2={971} y2={2927} stroke="#000" strokeWidth={3} />
      <g fontSize={27}>
        <text x={232} y={2580}>Variable</text>
        <text x={788} y={2580} textAnchor="end">Units</text>
        <text x={948} y={2580} textAnchor="end">Value</text>
      </g>
      {nonlinRows.map((r, i) => {
        const y = 2620 + i * 36.8;
        return (
          <g key={'nl' + i} fontSize={27}>
            <text x={r[1] ? 246 : 232} y={y}>{alphaText(r[0])}</text>
            <text x={791} y={y} textAnchor="end">{r[2]}</text>
            <text x={948} y={y} textAnchor="end">{r[3]}</text>
          </g>
        );
      })}

      {/* Poincare / DFA labels */}
      <text x={1123} y={2539} fontSize={31} fontWeight="bold">Poincare Plot</text>
      <text x={1377} y={3138} fontSize={27} textAnchor="middle">
        RR<tspan dy={9} fontSize={20}>n</tspan><tspan dy={-9}> (ms)</tspan>
      </text>
      <text transform="translate(1038,2814) rotate(-90)" fontSize={27} textAnchor="middle" letterSpacing={1}>
        RR<tspan dy={9} fontSize={20}>n+1</tspan><tspan dy={-9}> (ms)</tspan>
      </text>
      <text x={1763} y={2539} fontSize={31} fontWeight="bold">Detrended fluctuations (DFA)</text>
      <text x={2017} y={3138} fontSize={27} textAnchor="middle">
        log<tspan dy={9} fontSize={20}>10</tspan><tspan dy={-9}> n (beats)</tspan>
      </text>
      <text transform="translate(1691,2815) rotate(-90)" fontSize={27} textAnchor="middle" letterSpacing={1}>
        log<tspan dy={9} fontSize={20}>10</tspan><tspan dy={-9}> F(n)</tspan>
      </text>
      <text x={2250} y={3178} fontSize={27} textAnchor="end">*Results are calculated from the non-detrended selected RR series.</text>

      {/* Footer */}
      <g fontSize={30}>
        <text x={164} y={3306}>17-Aug-2023 19:43:55</text>
        <text x={164} y={3347}>BioSIgnals Training Team / Research &amp; Analysis, BioSIgnals LIMITED</text>
        <text x={2000} y={3306} textAnchor="end">Kubios HRV Standard (ver. 3.5.0)</text>
        <text x={2000} y={3347} textAnchor="end">Kubios Ltd. - www.kubios.com</text>
      </g>
      <g>
        <circle cx={2069} cy={3290} r={6} fill="#1A9AD6" />
        <circle cx={2046} cy={3304} r={7} fill="#0E6FB0" />
        <circle cx={2092} cy={3304} r={6} fill="#6CC3EC" />
        <circle cx={2069} cy={3317} r={7} fill="#1A9AD6" />
        <circle cx={2046} cy={3330} r={7} fill="#1A9AD6" />
        <circle cx={2092} cy={3330} r={7} fill="#0E6FB0" />
        <circle cx={2069} cy={3343} r={7} fill="#6CC3EC" />
        <circle cx={2046} cy={3356} r={5} fill="#0E6FB0" />
        <circle cx={2069} cy={3358} r={5} fill="#1A9AD6" />
      </g>
      <text x={2111} y={3350} fontSize={72} fill="#1D97D5">kubios</text>
    </svg>
  );
}

export default function App() {
  return (
    <div style={{ position: 'absolute', left: 0, top: 0, width: PAGE_W, height: PAGE_H, background: '#fff', overflow: 'hidden', fontFamily: FONT }}>
      <Background />
      <HRChart />
      <RRChart />
      <Gauge px={970} reversed={false} bars={pnsBars} marker={PNS_INDEX} markColor="#4EA9DB" barFill="#7FAFC8" />
      <Gauge px={1645} reversed bars={snsBars} marker={SNS_INDEX} markColor="#F08A24" barFill="#E8913F" />
      <HistChart />
      <SpectrumChart />
      <PoincareChart />
      <DFAChart />
      <Overlay />
    </div>
  );
}
